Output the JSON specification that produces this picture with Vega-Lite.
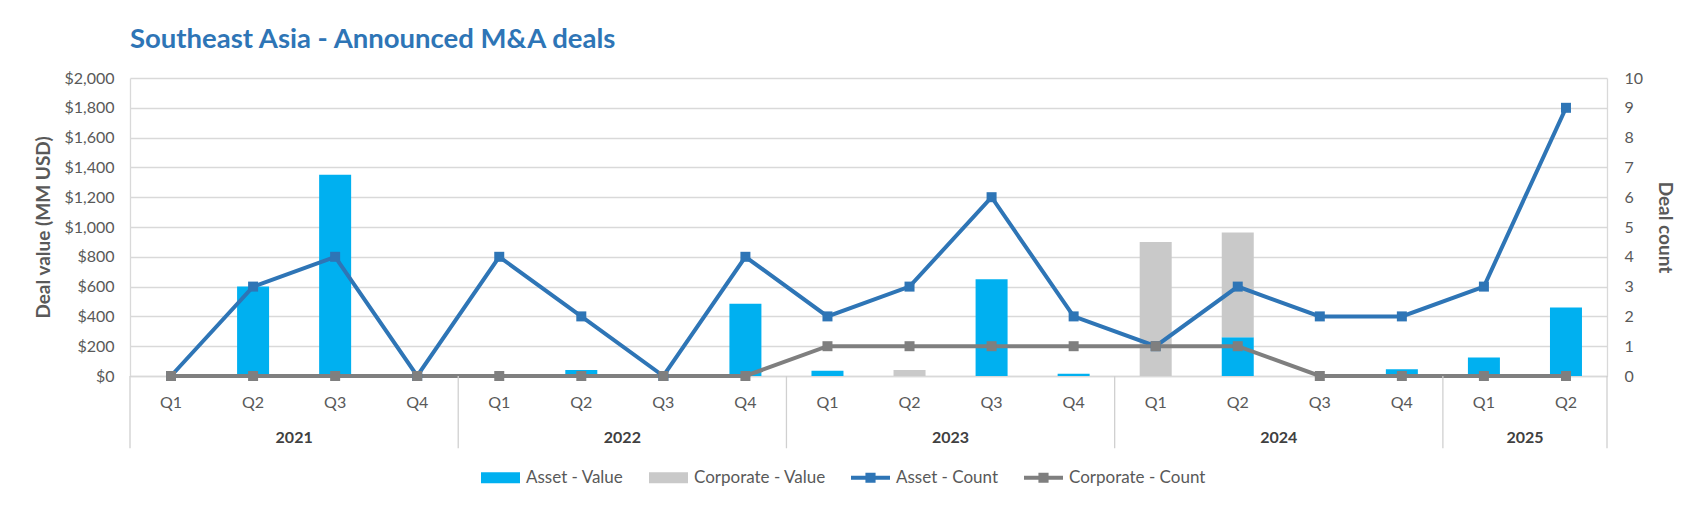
{
  "$schema": "https://vega.github.io/schema/vega-lite/v6.json",
  "width": 1477,
  "height": 298,
  "padding": {"left": 34, "top": 25, "right": 10, "bottom": 5},
  "background": "white",
  "title": {"text": "Southeast Asia - Announced M&A deals", "anchor": "start", "frame": "group", "font": "Lato", "fontSize": 27.5, "fontWeight": "bold", "color": "#2E75B6", "offset": 17},
  "config": {
    "view": {"stroke": null},
    "font": "Lato",
    "axis": {"labelFont": "Lato", "titleFont": "Lato", "labelColor": "#595959", "titleColor": "#595959", "domainColor": "#d9d9d9", "gridColor": "#d9d9d9", "labelFontSize": 16, "titleFontSize": 19}
  },
  "data": {"values": [
    {"period": "2021 Q1", "asset_value": 0, "corp_value": 0, "asset_count": 0, "corp_count": 0},
    {"period": "2021 Q2", "asset_value": 600, "corp_value": 0, "asset_count": 3, "corp_count": 0},
    {"period": "2021 Q3", "asset_value": 1350, "corp_value": 0, "asset_count": 4, "corp_count": 0},
    {"period": "2021 Q4", "asset_value": 0, "corp_value": 0, "asset_count": 0, "corp_count": 0},
    {"period": "2022 Q1", "asset_value": 0, "corp_value": 0, "asset_count": 4, "corp_count": 0},
    {"period": "2022 Q2", "asset_value": 40, "corp_value": 0, "asset_count": 2, "corp_count": 0},
    {"period": "2022 Q3", "asset_value": 0, "corp_value": 0, "asset_count": 0, "corp_count": 0},
    {"period": "2022 Q4", "asset_value": 485, "corp_value": 0, "asset_count": 4, "corp_count": 0},
    {"period": "2023 Q1", "asset_value": 35, "corp_value": 0, "asset_count": 2, "corp_count": 1},
    {"period": "2023 Q2", "asset_value": 0, "corp_value": 40, "asset_count": 3, "corp_count": 1},
    {"period": "2023 Q3", "asset_value": 650, "corp_value": 0, "asset_count": 6, "corp_count": 1},
    {"period": "2023 Q4", "asset_value": 15, "corp_value": 0, "asset_count": 2, "corp_count": 1},
    {"period": "2024 Q1", "asset_value": 0, "corp_value": 900, "asset_count": 1, "corp_count": 1},
    {"period": "2024 Q2", "asset_value": 260, "corp_value": 703, "asset_count": 3, "corp_count": 1},
    {"period": "2024 Q3", "asset_value": 0, "corp_value": 0, "asset_count": 2, "corp_count": 0},
    {"period": "2024 Q4", "asset_value": 45, "corp_value": 0, "asset_count": 2, "corp_count": 0},
    {"period": "2025 Q1", "asset_value": 125, "corp_value": 0, "asset_count": 3, "corp_count": 0},
    {"period": "2025 Q2", "asset_value": 460, "corp_value": 0, "asset_count": 9, "corp_count": 0}
  ]},
  "layer": [
    {
      "transform": [{"fold": ["asset_value", "corp_value"], "as": ["series", "amount"]}],
      "mark": {"type": "bar", "width": {"band": 0.39}},
      "encoding": {
        "x": {
          "field": "period", "type": "nominal", "sort": null,
          "scale": {"paddingInner": 0, "paddingOuter": 0},
          "axis": {
            "orient": "bottom", "title": null, "labelAngle": 0, "labelExpr": "substring(datum.label, 5)",
            "ticks": false, "labelPadding": 18, "domainColor": "#d9d9d9", "domainWidth": 1.3, "grid": false
          }
        },
        "y": {
          "field": "amount", "type": "quantitative", "stack": "zero",
          "scale": {"domain": [0, 2000]},
          "axis": {
            "title": "Deal value (MM USD)", "values": [0, 200, 400, 600, 800, 1000, 1200, 1400, 1600, 1800, 2000],
            "format": "$,.0f", "ticks": false, "labelPadding": 16, "titlePadding": 10, "domainWidth": 1.3,
            "gridWidth": 1.3, "titleFontWeight": "bold"
          }
        },
        "order": {"field": "series", "sort": "ascending"},
        "color": {
          "field": "series", "type": "nominal",
          "scale": {"domain": ["asset_value", "corp_value", "asset_count", "corp_count"], "range": ["#00B0F0", "#C9C9C9", "#2E75B6", "#7F7F7F"]},
          "legend": {
            "title": null, "orient": "none", "legendX": 351, "legendY": 380, "direction": "horizontal",
            "labelExpr": "datum.value == 'asset_value' ? 'Asset - Value' : datum.value == 'corp_value' ? 'Corporate - Value' : datum.value == 'asset_count' ? 'Asset - Count' : 'Corporate - Count'",
            "labelFont": "Lato", "labelFontSize": 17, "labelColor": "#595959",
            "symbolSize": 1521, "columnPadding": 25, "labelOffset": 6,
            "encode": {
              "symbols": {
                "update": {
                  "shape": {"signal": "indexof(datum.value, 'count') >= 0 ? 'M-1,-0.1 L1,-0.1 L1,0.1 L-1,0.1 Z M-0.26,-0.26 L0.26,-0.26 L0.26,0.26 L-0.26,0.26 Z' : 'M-1,-0.28 L1,-0.28 L1,0.28 L-1,0.28 Z'"},
                  "fill": {"scale": "color", "field": "value"},
                  "strokeWidth": {"value": 0},
                  "opacity": {"value": 1}
                }
              }
            }
          }
        }
      }
    },
    {
      "transform": [{"fold": ["asset_count", "corp_count"], "as": ["series", "count"]}],
      "mark": {"type": "line", "strokeWidth": 4, "point": {"shape": "square", "size": 100, "filled": true, "opacity": 1}},
      "encoding": {
        "x": {
          "field": "period", "type": "nominal", "sort": null,
          "axis": {
            "orient": "bottom", "title": null, "labelAngle": 0, "ticks": false, "domain": false, "grid": false,
            "labelExpr": "(indexof(datum.label, 'Q3') >= 0 || datum.label == '2025 Q2') ? substring(datum.label, 0, 4) : ''",
            "labelOffset": -41, "labelPadding": 53, "labelFontWeight": "bold", "labelColor": "#404040", "labelOverlap": false
          }
        },
        "y": {
          "field": "count", "type": "quantitative",
          "scale": {"domain": [0, 10]},
          "axis": {
            "orient": "right", "title": "Deal count", "values": [0, 1, 2, 3, 4, 5, 6, 7, 8, 9, 10],
            "ticks": false, "grid": false, "labelPadding": 17, "titlePadding": 12, "domainWidth": 1.3,
            "titleFontWeight": "bold"
          }
        },
        "color": {"field": "series", "type": "nominal"}
      }
    },
    {
      "transform": [{"filter": "substring(datum.period, 5) == 'Q1'"}],
      "mark": {"type": "rule", "color": "#d0d0d0", "strokeWidth": 1.3},
      "encoding": {
        "x": {"field": "period", "type": "nominal", "sort": null, "bandPosition": 0, "axis": null},
        "y": {"datum": 0, "type": "quantitative", "scale": {"domain": [0, 2000]}, "axis": null},
        "y2": {"datum": -485}
      }
    },
    {
      "transform": [{"filter": "datum.period == '2025 Q2'"}],
      "mark": {"type": "rule", "color": "#d0d0d0", "strokeWidth": 1.3},
      "encoding": {
        "x": {"field": "period", "type": "nominal", "sort": null, "bandPosition": 1, "axis": null},
        "y": {"datum": 0, "type": "quantitative", "scale": {"domain": [0, 2000]}, "axis": null},
        "y2": {"datum": -485}
      }
    }
  ],
  "resolve": {"scale": {"y": "independent"}, "axis": {"x": "independent"}}
}
